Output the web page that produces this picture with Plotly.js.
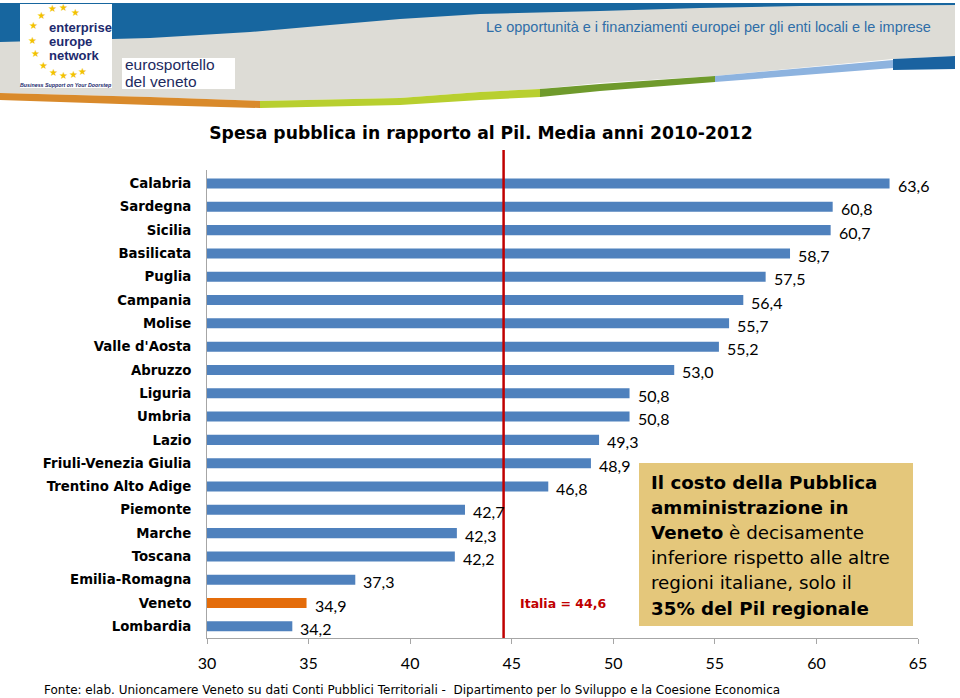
<!DOCTYPE html>
<html><head><meta charset="utf-8">
<script src="https://cdn.plot.ly/plotly-3.0.1.min.js"></script>
<style>html,body{margin:0;padding:0;background:#fff}#chart{width:960px;height:698px}</style>
</head><body><div id="chart"></div>
<script>
// ---- data ----
const regions = ["Calabria","Sardegna","Sicilia","Basilicata","Puglia","Campania","Molise","Valle d'Aosta","Abruzzo","Liguria","Umbria","Lazio","Friuli-Venezia Giulia","Trentino Alto Adige","Piemonte","Marche","Toscana","Emilia-Romagna","Veneto","Lombardia"];
const spesaPil = [63.6,60.8,60.7,58.7,57.5,56.4,55.7,55.2,53.0,50.8,50.8,49.3,48.9,46.8,42.7,42.3,42.2,37.3,34.9,34.2];
const italiaMedia = 44.6;
const highlight = "Veneto";
const xTicks = [30,35,40,45,50,55,60,65];
const titleText = "Spesa pubblica in rapporto al Pil. Media anni 2010-2012";
const headerText = "Le opportunità e i finanziamenti europei per gli enti locali e le imprese";
const sourceText = "Fonte: elab. Unioncamere Veneto su dati Conti Pubblici Territoriali -  Dipartimento per lo Sviluppo e la Coesione Economica";
const boxLines = ["<b>Il costo della Pubblica</b>","<b>amministrazione in</b>","<b>Veneto</b> è decisamente","inferiore rispetto alle altre","regioni italiane, solo il","<b>35% del Pil regionale</b>"];

// ---- geometry helpers (pixel -> paper) ----
const L=207, R=918, T=170, B=638;
const X = px => (px-L)/(R-L);
const Y = py => (B-py)/(B-T);
const path = pts => 'M' + pts.map(p => X(p[0]).toFixed(5)+','+Y(p[1]).toFixed(5)).join(' L') + ' Z';
const poly = (pts, color) => ({type:'path', xref:'paper', yref:'paper', path:path(pts), fillcolor:color, line:{width:0}, layer:'above'});
const rect = (x0,y0,x1,y1,color) => ({type:'rect', xref:'paper', yref:'paper', x0:X(x0), x1:X(x1), y0:Y(y1), y1:Y(y0), fillcolor:color, line:{width:0}});
const fmt = v => v.toFixed(1).replace('.', ',');
const note = (px, py, text, font, xanchor) => ({xref:'paper', yref:'paper', x:X(px), y:Y(py), xanchor:xanchor||'center', yanchor:'middle', text, showarrow:false, font});

const shapes = [
  poly([[0,3],[955,3],[955,56],[893,59],[715,76],[600,83],[540,89],[480,92],[400,98],[260,101],[150,97],[0,93]], '#dddcd6'),
  poly([[0,3],[955,3],[955,5],[800,6],[700,8],[600,11],[480,14],[400,19],[330,25],[250,32],[150,38],[0,42]], '#17669f'),
  poly([[0,93],[150,97],[260,101],[260,108],[150,105],[0,100]], '#d98a2b'),
  poly([[260,101],[400,98],[480,92],[540,89],[540,97],[480,100],[400,105],[260,108]], '#b8cf2f'),
  poly([[540,89],[600,84],[715,76],[715,82],[600,91],[540,97]], '#6f9a2c'),
  poly([[715,76],[893,60],[893,68],[715,82]], '#8db3df'),
  poly([[893,59],[955,56],[955,69],[893,70]], '#1a62a0'),
  rect(20,4,112,88,'#ffffff'),
  rect(122,58,235,89,'#ffffff'),
  // annotation box
  rect(639,463,913,626,'#e4c77b'),
  // Italia average line
  {type:'line', xref:'x', yref:'paper', x0:italiaMedia, x1:italiaMedia, y0:0, y1:Y(150), line:{color:'#c00000', width:2.5}}
];

const starPos = [[52,9],[63,8],[75,12],[41,15],[33,25],[32,40],[35,53],[43,66],[53,72],[63,75],[73,74],[82,71]];
const annotations = [];
starPos.forEach(p => annotations.push(note(p[0], p[1], '★', {size:9.5, color:'#f2c200'})));
[['enterprise',27],['europe',41],['network',55]].forEach(t => annotations.push(note(47, t[1], '<b>'+t[0]+'</b>', {family:'Liberation Sans', size:13, color:'#1d2a6e'}, 'left')));
annotations.push(note(66, 85, '<i><b>Business Support on Your Doorstep</b></i>', {family:'Liberation Sans', size:5.3, color:'#1d2a6e'}));
annotations.push(note(123, 65, 'eurosportello', {family:'Liberation Sans', size:15.5, color:'#1d2a5e'}, 'left'));
annotations.push(note(123, 81, 'del veneto', {family:'Liberation Sans', size:15.5, color:'#1d2a5e'}, 'left'));
annotations.push(note(933, 27, headerText, {family:'Liberation Sans', size:14.5, color:'#2f6ea8'}, 'right'));

regions.forEach((r,i) => annotations.push({xref:'x', yref:'y', x:spesaPil[i], y:r, xanchor:'left', yanchor:'middle', xshift:6, yshift:-2, text:fmt(spesaPil[i]), showarrow:false, font:{family:'Lato', size:16, color:'#000'}}));
annotations.push({xref:'x', yref:'y', x:italiaMedia, y:highlight, xanchor:'left', yanchor:'middle', xshift:14, text:'<b>Italia = '+fmt(italiaMedia)+'</b>', showarrow:false, font:{family:'DejaVu Sans', size:12.5, color:'#c00000'}});
boxLines.forEach((t,i) => annotations.push(note(649, 482+i*25.2, t, {family:'DejaVu Sans', size:18.3, color:'#000'}, 'left')));
annotations.push(note(42, 690, sourceText, {family:'DejaVu Sans', size:12, color:'#000'}, 'left'));

const trace = {
  type:'bar', orientation:'h', x:spesaPil, y:regions,
  marker:{color: regions.map(r => r===highlight ? '#e46c0a' : '#4f81bd')},
  hoverinfo:'none'
};

const layout = {
  width:960, height:698,
  margin:{l:L, r:960-R, t:T, b:698-B, pad:0},
  paper_bgcolor:'#fff', plot_bgcolor:'#fff',
  bargap:0.57, showlegend:false,
  title:{text:'<b>'+titleText+'</b>', x:481/960, xanchor:'center', y:1-133/698, yanchor:'middle', font:{family:'DejaVu Sans', size:17.2, color:'#000'}},
  xaxis:{range:[30,65], tickvals:xTicks, ticktext:xTicks.map(String), showgrid:false, zeroline:false,
         showline:true, linecolor:'#a6a6a6', linewidth:1, ticks:'outside', ticklen:5, tickcolor:'#a6a6a6',
         ticklabelstandoff:6, tickfont:{family:'Lato', size:16, color:'#000'}},
  yaxis:{autorange:'reversed', showgrid:false, zeroline:false, showline:true, linecolor:'#a6a6a6', linewidth:1,
         ticks:'', ticklabelstandoff:12, tickfont:{family:'DejaVu Sans', size:13.3, color:'#000', weight:'bold'}},
  shapes, annotations
};
Plotly.newPlot('chart', [trace], layout, {staticPlot:true, displayModeBar:false});
</script></body></html>
